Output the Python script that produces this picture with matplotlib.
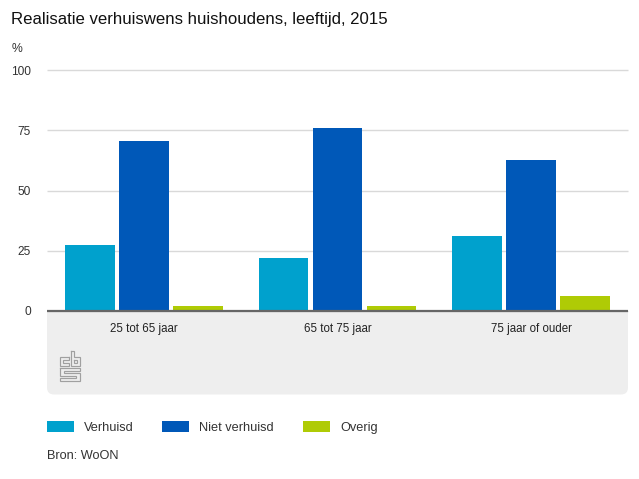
import numpy as np
import matplotlib
matplotlib.use("Agg")
import matplotlib.pyplot as plt
from matplotlib.patches import FancyBboxPatch, Rectangle
from matplotlib.transforms import ScaledTranslation

plt.rcParams['font.family'] = ['Liberation Sans', 'DejaVu Sans']

categories = ["25 tot 65 jaar", "65 tot 75 jaar", "75 jaar of ouder"]
verhuisd = [27.5, 22, 31]
niet_verhuisd = [70.5, 76, 62.5]
overig = [2, 2, 6]
series_names = ["Verhuisd", "Niet verhuisd", "Overig"]
colors = ["#00a1cd", "#0058b8", "#afcb05"]
yticks = [0, 25, 50, 75, 100]
title = "Realisatie verhuiswens huishoudens, leeftijd, 2015"
source = "Bron: WoON"
TXT = "#333333"

W, H = 639, 479
fig = plt.figure(figsize=(W/100, H/100), dpi=100, facecolor="white")

# full-figure overlay in pixel coordinates for furniture
bg = fig.add_axes([0, 0, 1, 1], zorder=0)
bg.set_xlim(0, W); bg.set_ylim(H, 0); bg.axis("off")
bg.add_patch(FancyBboxPatch((47, 300), 581, 94.5, boxstyle="round,pad=0,rounding_size=7",
                            fc="#eeeeee", ec="none"))
bg.add_patch(Rectangle((47, 300), 581, 11, fc="white", ec="none", zorder=2))

# plot area
L, R, T, B = 47, 628, 70.5, 310.5
ax = fig.add_axes([L/W, 1-B/H, (R-L)/W, (B-T)/H], zorder=1)
ax.patch.set_alpha(0)
ax.set_xlim(0, 3)
ax.set_ylim(0, 100)
x = np.arange(3) + 0.5
step = 54/(581/3)
bw = 49.5/(581/3)
for i, (vals, c, n) in enumerate(zip([verhuisd, niet_verhuisd, overig], colors, series_names)):
    ax.bar(x + (i-1)*step, vals, bw, color=c, label=n, zorder=3)
ax.set_yticks(yticks)
ax.set_yticklabels([str(v) for v in yticks], fontsize=8.6, color=TXT, va="center_baseline")
shift = ScaledTranslation(0, -1.5/100, fig.dpi_scale_trans)
for lab in ax.get_yticklabels():
    lab.set_transform(lab.get_transform() + shift)
ax.set_xticks(x)
ax.set_xticklabels(categories, fontsize=8.3, color="#222222")
ax.tick_params(axis="both", length=0)
ax.tick_params(axis="y", pad=11.5)
ax.tick_params(axis="x", pad=9)
ax.yaxis.grid(True, color="#d9d9d9", lw=1, zorder=0)
for g in ax.get_ygridlines():
    g.set_clip_on(False)
    g.set_solid_capstyle("butt")
ax.set_axisbelow(True)
for s in ["top", "left", "right"]:
    ax.spines[s].set_visible(False)
ax.spines["bottom"].set_color("#666666")
ax.spines["bottom"].set_linewidth(1.6)
ax.spines["bottom"].set_capstyle("butt")
ax.spines["bottom"].set_zorder(5)

# texts
bg.text(11, 24.3, title, fontsize=12.02, color="#111111", va="baseline", ha="left")
bg.text(12, 51.5, "%", fontsize=8.8, color=TXT, va="baseline", ha="left")
bg.text(47, 459, source, fontsize=9.2, color=TXT, va="baseline", ha="left")

# legend
for (lx, tx), c, n in zip([(47, 84), (162, 199), (303, 340)], colors, series_names):
    bg.add_patch(Rectangle((lx, 421), 26.5, 11, fc=c, ec="none"))
    bg.text(tx, 431, n, fontsize=9.2, color=TXT, va="baseline", ha="left")

# cbs logo
lc = "#a0a0a0"
paths = [
    [(68.5, 356.5), (60, 356.5), (60, 366), (68.5, 366), (68.5, 363), (63, 363), (63, 359.5), (68.5, 359.5), (68.5, 356.5)],
    [(70.5, 351), (73.5, 351), (73.5, 356.5), (79.5, 356.5), (79.5, 366), (70.5, 366), (70.5, 351)],
    [(73.5, 359.5), (76.5, 359.5), (76.5, 363), (73.5, 363), (73.5, 359.5)],
    [(60, 368), (79.5, 368), (79.5, 371), (63.5, 371), (63.5, 373), (79.5, 373), (79.5, 381), (60, 381),
     (60, 378), (76, 378), (76, 376), (60, 376), (60, 368)],
]
for p in paths:
    p = np.array(p)
    bg.plot(p[:, 0], p[:, 1], color=lc, lw=0.85, zorder=3, solid_joinstyle="miter")

fig.savefig("out.png", dpi=100)
